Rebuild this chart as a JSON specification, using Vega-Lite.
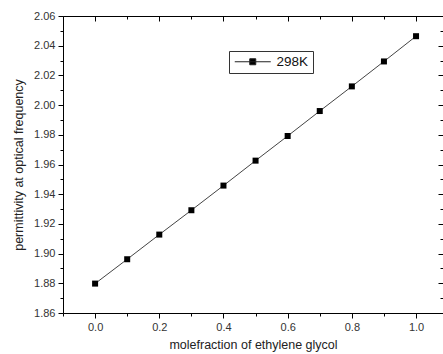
{
  "$schema": "https://vega.github.io/schema/vega-lite/v6.json",
  "width": 380,
  "height": 297,
  "autosize": "none",
  "padding": {"left": 63, "top": 16, "right": 0, "bottom": 41},
  "background": "white",
  "config": {
    "view": {"stroke": null},
    "font": "Liberation Sans",
    "axis": {"grid": false, "domainColor": "#000", "tickColor": "#000", "labelColor": "#333", "titleColor": "#222", "labelFont": "Liberation Sans", "titleFont": "Liberation Sans", "labelFontSize": 11, "titleFontSize": 12.5, "titleFontWeight": "normal"}
  },
  "data": {"values": [
    {"x": 0.0, "y": 1.8798, "series": "298K"},
    {"x": 0.1, "y": 1.8962, "series": "298K"},
    {"x": 0.2, "y": 1.9128, "series": "298K"},
    {"x": 0.3, "y": 1.9292, "series": "298K"},
    {"x": 0.4, "y": 1.9458, "series": "298K"},
    {"x": 0.5, "y": 1.9626, "series": "298K"},
    {"x": 0.6, "y": 1.9792, "series": "298K"},
    {"x": 0.7, "y": 1.9960, "series": "298K"},
    {"x": 0.8, "y": 2.0126, "series": "298K"},
    {"x": 0.9, "y": 2.0294, "series": "298K"},
    {"x": 1.0, "y": 2.0464, "series": "298K"}
  ]},
  "resolve": {"axis": {"x": "independent", "y": "independent"}},
  "layer": [
    {
      "mark": {"type": "line", "color": "#444", "strokeWidth": 1},
      "encoding": {
        "x": {"field": "x", "type": "quantitative", "scale": {"domain": [-0.1, 1.084], "nice": false, "zero": false},
          "axis": {"orient": "bottom", "values": [0, 0.2, 0.4, 0.6, 0.8, 1.0], "format": ".1f", "tickSize": 5, "labelPadding": 3, "title": "molefraction of ethylene glycol", "titlePadding": 6}},
        "y": {"field": "y", "type": "quantitative", "scale": {"domain": [1.86, 2.06], "nice": false, "zero": false},
          "axis": {"orient": "left", "values": [1.86, 1.88, 1.9, 1.92, 1.94, 1.96, 1.98, 2.0, 2.02, 2.04, 2.06], "format": ".2f", "tickSize": 5, "labelPadding": 3, "title": "permittivity at optical frequency", "titlePadding": 8}}
      }
    },
    {
      "mark": {"type": "point", "shape": "square", "filled": true, "size": 36, "opacity": 1},
      "encoding": {
        "x": {"field": "x", "type": "quantitative",
          "axis": {"orient": "bottom", "values": [-0.1, 0.1, 0.3, 0.5, 0.7, 0.9], "labels": false, "domain": false, "tickSize": 3, "title": null}},
        "y": {"field": "y", "type": "quantitative",
          "axis": {"orient": "left", "values": [1.87, 1.89, 1.91, 1.93, 1.95, 1.97, 1.99, 2.01, 2.03, 2.05], "labels": false, "domain": false, "tickSize": 3, "title": null}},
        "color": {"field": "series", "type": "nominal", "scale": {"range": ["#000"]},
          "legend": {"orient": "none", "legendX": 166, "legendY": 35, "title": null, "strokeColor": "#333", "padding": 4,
            "symbolType": "M-3.6,0H3.6M-0.6,-0.6H0.6V0.6H-0.6Z", "symbolSize": 100, "symbolOffset": 13, "symbolStrokeWidth": 1, "symbolStrokeColor": "#222", "symbolFillColor": "#000",
            "labelFontSize": 13.5, "labelColor": "#111", "labelOffset": 17, "labelFont": "Liberation Sans"}}
      }
    },
    {
      "mark": {"type": "point", "opacity": 0},
      "encoding": {
        "x": {"field": "x", "type": "quantitative",
          "axis": {"orient": "top", "values": [0, 0.2, 0.4, 0.6, 0.8, 1.0], "labels": false, "tickSize": -5, "title": null}},
        "y": {"field": "y", "type": "quantitative",
          "axis": {"orient": "right", "values": [1.86, 1.88, 1.9, 1.92, 1.94, 1.96, 1.98, 2.0, 2.02, 2.04, 2.06], "labels": false, "domain": false, "tickSize": -5, "title": null}}
      }
    },
    {
      "mark": {"type": "point", "opacity": 0},
      "encoding": {
        "x": {"field": "x", "type": "quantitative",
          "axis": {"orient": "top", "values": [-0.1, 0.1, 0.3, 0.5, 0.7, 0.9], "labels": false, "domain": false, "tickSize": -3, "title": null}},
        "y": {"field": "y", "type": "quantitative",
          "axis": {"orient": "right", "values": [1.87, 1.89, 1.91, 1.93, 1.95, 1.97, 1.99, 2.01, 2.03, 2.05], "labels": false, "domain": false, "tickSize": -3, "title": null}}
      }
    }
  ]
}
